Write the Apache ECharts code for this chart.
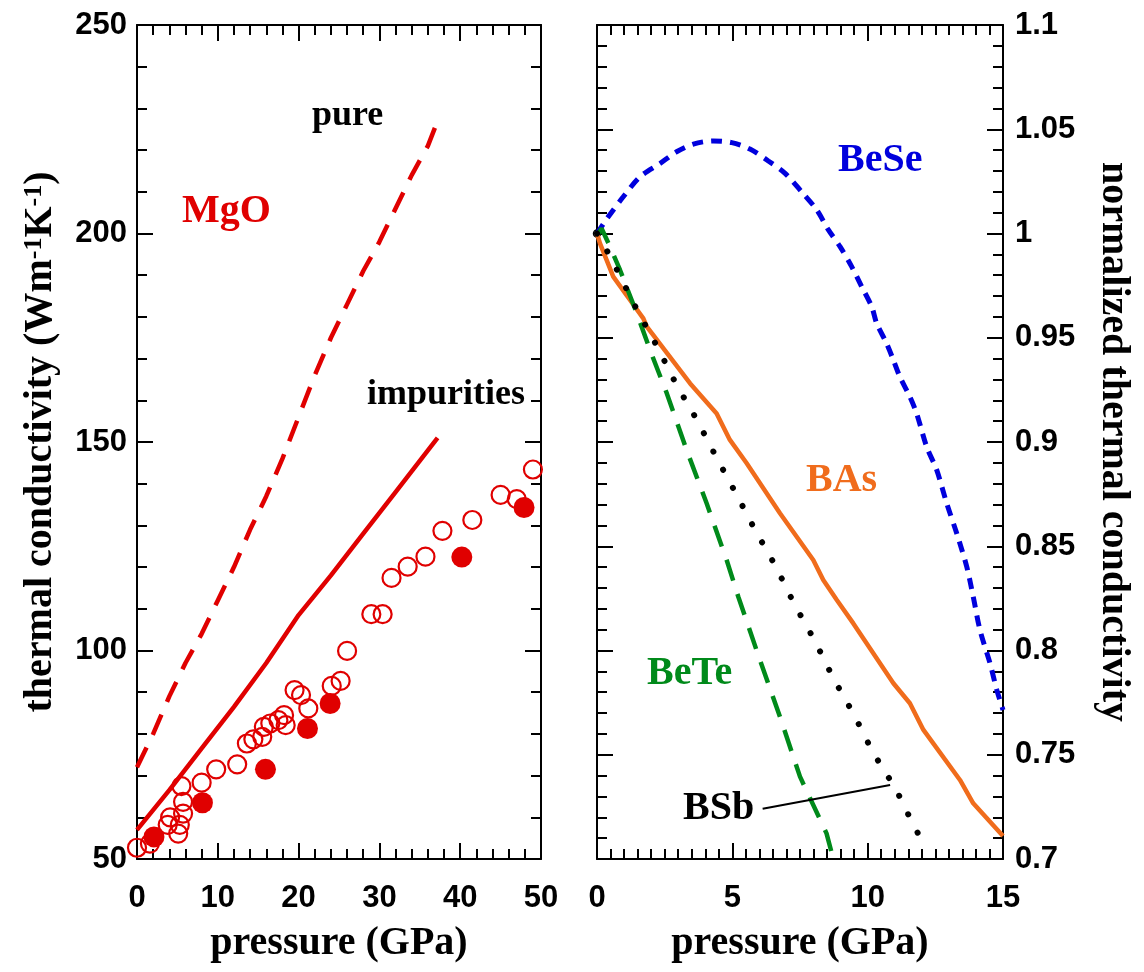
<!DOCTYPE html>
<html>
<head>
<meta charset="utf-8">
<script src="https://cdn.jsdelivr.net/npm/echarts@6/dist/echarts.min.js"></script>
<style>
  html, body { margin: 0; padding: 0; background: #fff; }
  #main { width: 1144px; height: 972px; }
</style>
</head>
<body>
<div id="main"></div>
<script>
// MgO, left panel (pressure GPa -> W/mK)
var pureP = [0, 1, 2, 4, 6, 8, 10, 12, 14, 16, 18, 20, 22, 24, 26, 28, 30, 32, 34, 36, 37.2];
var pureK = [72, 76, 80, 89, 97, 104, 112, 120, 129, 137, 146, 156, 166, 175, 183, 191, 198, 206, 214, 221, 227];

var impP = [0, 4, 8, 12, 16, 20, 24, 28, 32, 36, 37.2];
var impK = [57, 66.5, 76.5, 86.5, 97, 108.5, 118, 128, 138, 148, 151];

var openP = [0, 1.6, 3.8, 4.1, 5.1, 5.3, 5.5, 5.7, 5.7, 8.0, 9.8, 12.4, 13.6, 14.4, 15.5, 15.7, 16.5, 17.5, 18.2, 18.4,
             19.5, 20.3, 21.2, 24.1, 25.2, 26.0, 29.0, 30.4, 31.5, 33.5, 35.7, 37.8, 41.5, 45.0, 47.0, 49.0];
var openK = [52.7, 53.7, 58.2, 60.0, 56.1, 58.2, 67.5, 63.7, 60.9, 68.3, 71.5, 72.7, 77.7, 78.7, 79.3, 81.7, 82.5, 83.3, 84.5, 82.1,
             90.5, 89.3, 86.1, 91.5, 92.7, 99.9, 108.7, 108.7, 117.4, 120.1, 122.5, 128.7, 131.3, 137.3, 136.3, 143.4];

var fillP = [2.1, 8.1, 15.9, 21.1, 23.9, 40.2, 47.9];
var fillK = [55.3, 63.5, 71.5, 81.3, 87.3, 122.4, 134.3];

// right panel, normalized
var beseP = [0, 0.36, 0.97, 1.59, 2.33, 2.94, 3.56, 4.30, 4.98, 5.65, 6.33, 6.95, 7.56, 8.12, 8.55, 8.98, 9.41, 9.78,
             10.15, 10.33, 10.70, 10.95, 11.19, 11.56, 11.81, 12.18, 12.55, 12.92, 13.29, 13.66, 13.90, 14.15, 14.52, 14.77, 15.0];
var beseK = [1.0, 1.007, 1.0176, 1.0272, 1.0336, 1.0392, 1.0429, 1.0444, 1.0436, 1.0405, 1.0348, 1.0288, 1.0200, 1.0113, 1.0017, 0.9937, 0.9841, 0.9745,
             0.9649, 0.957, 0.9473, 0.9393, 0.9313, 0.9217, 0.9137, 0.8977, 0.8866, 0.8706, 0.8562, 0.8402, 0.8258, 0.8098, 0.7939, 0.7811, 0.7715];

var basP = [0, 0.11, 0.6, 1.22, 1.71, 1.84, 3.44, 4.42, 4.91, 5.53, 6.76, 7.99, 8.36, 8.86, 9.47, 10.95, 11.56, 12.06, 13.41, 13.9, 15.0];
var basK = [1.0, 0.9953, 0.9793, 0.9681, 0.9593, 0.9553, 0.9281, 0.9137, 0.9010, 0.8898, 0.8658, 0.8434, 0.8338, 0.8242, 0.8130, 0.7843, 0.7747, 0.7619, 0.7379, 0.7267, 0.711];

var bsbP = [0, 0.48, 0.82, 1.16, 1.50, 2.26, 2.94, 3.68, 4.40, 5.13, 5.84, 6.61, 7.29, 8.05, 8.73, 9.50, 10.19, 11.04, 11.72, 12.09];
var bsbK = [1.0, 0.9892, 0.9804, 0.9716, 0.9628, 0.9449, 0.9273, 0.9109, 0.8929, 0.8754, 0.8578, 0.8402, 0.8222, 0.8046, 0.7867, 0.7691, 0.7512, 0.7336, 0.7155, 0.7070];

var beteP = [0.05, 0.17, 0.48, 0.85, 1.28, 1.47, 1.96, 2.58, 3.31, 4.05, 4.79, 5.22, 6.02, 6.76, 7.50, 8.48, 8.73];
var beteK = [1.0, 1.0024, 0.9937, 0.9825, 0.9681, 0.9617, 0.9441, 0.9233, 0.8962, 0.8706, 0.8434, 0.8258, 0.7954, 0.7682, 0.7395, 0.7123, 0.70];

var bsbPointerP = [6.12, 10.83];
var bsbPointerK = [0.7241, 0.7355];

function zip(a, b) {
    return a.map(function (v, i) { return [v, b[i]]; });
}

var red = '#e00000', blue = '#0000dd', green = '#008a1a', orange = '#f06c1c';
var serif = 'Liberation Serif';
var sans = 'Liberation Sans';

function axis(pos, grid, min, max, step, minorN, showLabel, margin) {
    return {
        type: 'value', gridIndex: grid, position: pos,
        min: min, max: max, interval: step,
        axisLine: { show: true, onZero: false, lineStyle: { color: '#000', width: 2 } },
        axisTick: { show: true, inside: true, length: 16, lineStyle: { color: '#000', width: 2 } },
        minorTick: { show: true, splitNumber: minorN, length: 10, lineStyle: { color: '#000', width: 2 } },
        splitLine: { show: false },
        axisLabel: {
            show: showLabel, margin: margin, color: '#000',
            fontFamily: sans, fontWeight: 'bold', fontSize: 31,
            showMinLabel: true, showMaxLabel: true
        }
    };
}

var titleStyle = {
    color: '#000', fontFamily: serif, fontWeight: 'bold', fontSize: 40,
    rich: {
        sup: { fontFamily: serif, fontWeight: 'bold', fontSize: 26, verticalAlign: 'top', color: '#000' }
    }
};

var xLeft = axis('bottom', 0, 0, 50, 10, 5, true, 24);
xLeft.name = 'pressure (GPa)';
xLeft.nameLocation = 'middle';
xLeft.nameGap = 65;
xLeft.nameTextStyle = titleStyle;

var xRight = axis('bottom', 1, 0, 15, 5, 10, true, 24);
xRight.name = 'pressure (GPa)';
xRight.nameLocation = 'middle';
xRight.nameGap = 65;
xRight.nameTextStyle = titleStyle;

var yLeft = axis('left', 0, 50, 250, 50, 5, true, 10);
yLeft.name = 'thermal conductivity (Wm{sup|-1}K{sup|-1})';
yLeft.nameLocation = 'middle';
yLeft.nameRotate = 90;
yLeft.nameGap = 76;
yLeft.nameMoveOverlap = false;
yLeft.nameTextStyle = titleStyle;

var yRight = axis('right', 1, 0.7, 1.1, 0.05, 5, true, 12);
yRight.name = 'normalized thermal conductivity';
yRight.nameLocation = 'middle';
yRight.nameRotate = -90;
yRight.nameGap = 90;
yRight.nameMoveOverlap = false;
yRight.nameTextStyle = titleStyle;

function label(text, x, y, color, size) {
    return {
        type: 'text', left: x, top: y,
        style: { text: text, fill: color, font: 'bold ' + size + 'px "' + serif + '"' }
    };
}

var myChart = echarts.init(document.getElementById('main'));
var option = {
    backgroundColor: '#fff',
    animation: false,
    grid: [
        { left: 137, top: 25, width: 404, height: 834, outerBoundsMode: 'none' },
        { left: 597, top: 25, width: 406, height: 834, outerBoundsMode: 'none' }
    ],
    xAxis: [
        xLeft,
        axis('top', 0, 0, 50, 10, 5, false, 0),
        xRight,
        axis('top', 1, 0, 15, 5, 10, false, 0)
    ],
    yAxis: [
        yLeft,
        axis('right', 0, 50, 250, 50, 5, false, 0),
        axis('left', 1, 0.7, 1.1, 0.05, 5, false, 0),
        yRight
    ],
    graphic: [
        label('pure', 312, 98, '#000', 36),
        label('MgO', 182, 192, red, 40),
        label('impurities', 367, 377, '#000', 36),
        label('BeSe', 838, 141, blue, 40),
        label('BAs', 806, 461, orange, 40),
        label('BeTe', 647, 654, green, 40),
        label('BSb', 683, 789, '#000', 40)
    ],
    series: [
        {
            name: 'pure', type: 'line', xAxisIndex: 0, yAxisIndex: 0,
            data: zip(pureP, pureK), showSymbol: false, smooth: false,
            lineStyle: { color: red, width: 4.5, type: [22, 14] }
        },
        {
            name: 'impurities', type: 'line', xAxisIndex: 0, yAxisIndex: 0,
            data: zip(impP, impK), showSymbol: false,
            lineStyle: { color: red, width: 4.5 }
        },
        {
            name: 'open', type: 'scatter', xAxisIndex: 0, yAxisIndex: 0,
            data: zip(openP, openK), symbol: 'circle', symbolSize: 18,
            itemStyle: { color: 'rgba(0,0,0,0)', borderColor: red, borderWidth: 2.2, opacity: 1 }
        },
        {
            name: 'filled', type: 'scatter', xAxisIndex: 0, yAxisIndex: 0,
            data: zip(fillP, fillK), symbol: 'circle', symbolSize: 21,
            itemStyle: { color: red, opacity: 1 }
        },
        {
            name: 'BeSe', type: 'line', xAxisIndex: 2, yAxisIndex: 3,
            data: zip(beseP, beseK), showSymbol: false, smooth: 0.3,
            lineStyle: { color: blue, width: 5, type: [11, 8] }
        },
        {
            name: 'BAs', type: 'line', xAxisIndex: 2, yAxisIndex: 3,
            data: zip(basP, basK), showSymbol: false,
            lineStyle: { color: orange, width: 4.5 }
        },
        {
            name: 'BeTe', type: 'line', xAxisIndex: 2, yAxisIndex: 3,
            data: zip(beteP, beteK), showSymbol: false,
            lineStyle: { color: green, width: 4.5, type: [22, 14] }
        },
        {
            name: 'BSb', type: 'line', xAxisIndex: 2, yAxisIndex: 3,
            data: zip(bsbP, bsbK), showSymbol: false,
            lineStyle: { color: '#000', width: 6, type: [0.1, 20.5], cap: 'round' }
        },
        {
            name: 'BSb pointer', type: 'line', xAxisIndex: 2, yAxisIndex: 3,
            data: zip(bsbPointerP, bsbPointerK), showSymbol: false,
            lineStyle: { color: '#000', width: 2 }
        },
        {
            name: 'start', type: 'scatter', xAxisIndex: 2, yAxisIndex: 3,
            data: [[0, 1.0]], symbol: 'circle', symbolSize: 7,
            itemStyle: { color: '#fff', borderColor: '#000', borderWidth: 1.5, opacity: 1 }
        }
    ]
};
myChart.setOption(option);
</script>
</body>
</html>
